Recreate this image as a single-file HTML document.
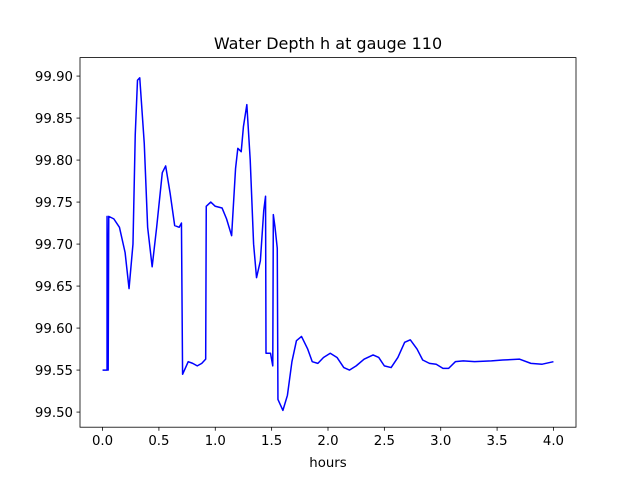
<!DOCTYPE html>
<html><head><meta charset="utf-8"><style>
html,body{margin:0;padding:0;background:#fff;}
svg{display:block;font-family:"DejaVu Sans","Liberation Sans",sans-serif;}
</style></head><body>
<svg id="chart" width="640" height="480" viewBox="0 0 640 480">
<rect x="0" y="0" width="640" height="480" fill="#fff"/>
<text x="328" y="49" font-size="16" text-anchor="middle" fill="#000">Water Depth h at gauge 110</text>
<g id="xticks"></g>
<g id="yticks"></g>
<polyline id="line" fill="none" stroke="#0000ff" stroke-width="1.5" stroke-linejoin="round"/>
<rect x="80" y="57.6" width="496" height="369.6" fill="none" stroke="#000" stroke-width="0.8"/>
<text x="328" y="467" font-size="13.3" text-anchor="middle" fill="#000">hours</text>
</svg>
<script>
const hours = [0,0.04,0.04,0.05,0.055,0.10,0.15,0.20,0.235,0.27,0.29,0.31,0.33,0.37,0.40,0.44,0.48,0.53,0.56,0.60,0.64,0.68,0.70,0.71,0.76,0.80,0.84,0.88,0.915,0.92,0.96,1.00,1.06,1.10,1.145,1.18,1.20,1.23,1.25,1.28,1.31,1.34,1.366,1.40,1.43,1.446,1.45,1.49,1.51,1.515,1.53,1.55,1.556,1.60,1.64,1.68,1.72,1.765,1.82,1.86,1.91,1.96,2.02,2.08,2.14,2.19,2.25,2.32,2.40,2.45,2.50,2.56,2.62,2.68,2.73,2.79,2.84,2.90,2.96,3.02,3.07,3.13,3.20,3.30,3.45,3.55,3.70,3.80,3.90,4.00];
const depth = [99.55,99.55,99.733,99.55,99.733,99.73,99.72,99.69,99.647,99.70,99.83,99.895,99.898,99.82,99.72,99.673,99.72,99.785,99.793,99.76,99.722,99.72,99.725,99.545,99.56,99.558,99.555,99.558,99.563,99.745,99.75,99.745,99.743,99.73,99.71,99.79,99.814,99.81,99.84,99.866,99.80,99.70,99.66,99.68,99.74,99.757,99.57,99.57,99.555,99.735,99.72,99.695,99.515,99.502,99.52,99.56,99.585,99.59,99.575,99.56,99.558,99.565,99.57,99.565,99.553,99.55,99.555,99.563,99.568,99.565,99.555,99.553,99.565,99.583,99.586,99.575,99.562,99.558,99.557,99.552,99.552,99.56,99.561,99.56,99.561,99.562,99.563,99.558,99.557,99.56];
const xTickLabels = ["0.0","0.5","1.0","1.5","2.0","2.5","3.0","3.5","4.0"];
const yTickLabels = ["99.50","99.55","99.60","99.65","99.70","99.75","99.80","99.85","99.90"];

const L=80,R=576,T=57.6,B=427.2;
const xmin=-0.2,xmax=4.2,ymin=99.482,ymax=99.922;
const sx=v=>L+(v-xmin)/(xmax-xmin)*(R-L);
const sy=v=>B-(v-ymin)/(ymax-ymin)*(B-T);
const NS="http://www.w3.org/2000/svg";

document.getElementById('line').setAttribute('points',hours.map((h,i)=>sx(h).toFixed(2)+','+sy(depth[i]).toFixed(2)).join(' '));

const xg=document.getElementById('xticks');
xTickLabels.forEach(t=>{
  const x=sx(parseFloat(t));
  const l=document.createElementNS(NS,'line');
  l.setAttribute('x1',x);l.setAttribute('x2',x);l.setAttribute('y1',B);l.setAttribute('y2',B+3.5);
  l.setAttribute('stroke','#000');l.setAttribute('stroke-width','0.8');
  
  
  xg.appendChild(l);
  const tx=document.createElementNS(NS,'text');
  tx.setAttribute('x',x);tx.setAttribute('y',B+18);tx.setAttribute('font-size','13.3');tx.setAttribute('text-anchor','middle');
  tx.textContent=t;
  
  
  xg.appendChild(tx);
});
const yg=document.getElementById('yticks');
yTickLabels.forEach(t=>{
  const y=sy(parseFloat(t));
  const l=document.createElementNS(NS,'line');
  l.setAttribute('x1',L-3.5);l.setAttribute('x2',L);l.setAttribute('y1',y);l.setAttribute('y2',y);
  l.setAttribute('stroke','#000');l.setAttribute('stroke-width','0.8');
  
  
  yg.appendChild(l);
  const tx=document.createElementNS(NS,'text');
  tx.setAttribute('x',L-7);tx.setAttribute('y',y+4.8);tx.setAttribute('font-size','13.3');tx.setAttribute('text-anchor','end');
  tx.textContent=t;
  
  
  yg.appendChild(tx);
});
</script>
</body></html>
